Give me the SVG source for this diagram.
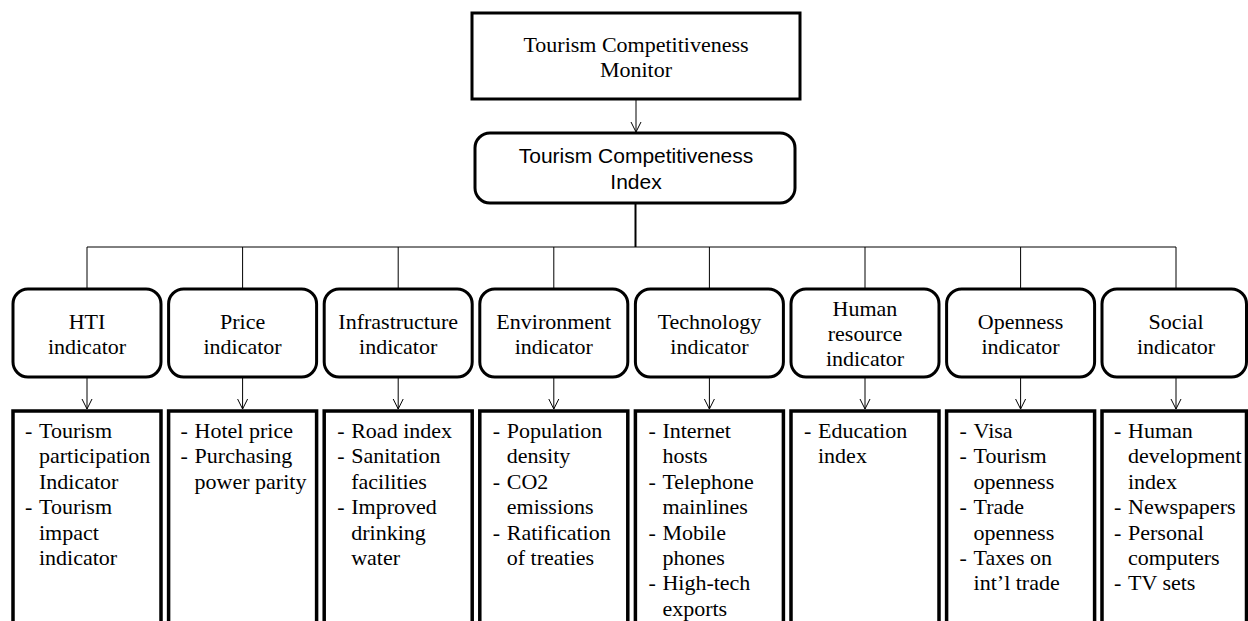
<svg xmlns="http://www.w3.org/2000/svg" width="1248" height="621" viewBox="0 0 1248 621">
  <defs>
    <style>
      .rm { font-family: "Liberation Serif", Tinos, "Times New Roman", Times, "DejaVu Serif", serif; font-size: 22px; fill: #000; }
      .sans { font-family: "Liberation Sans", Arial, sans-serif; font-size: 21px; fill: #000; }
      .mid { text-anchor: middle; }
      .box { fill: #fff; stroke: #000; stroke-width: 3; }
      .detail { fill: #fff; stroke: #000; stroke-width: 3.5; }
      .conn { fill: none; stroke: #000; stroke-width: 1; }
      .trunk { fill: none; stroke: #000; stroke-width: 2; }
    </style>
    <marker id="arrow" viewBox="0 0 12 12" refX="11" refY="6" markerWidth="12" markerHeight="12" markerUnits="userSpaceOnUse" orient="auto">
      <path d="M1,1 L11,6 L1,11" fill="none" stroke="#000" stroke-width="1"/>
    </marker>
  </defs>
  <rect width="1248" height="621" fill="#fff"/>

  <!-- connectors -->
  <g id="connectors">
    <line class="conn" x1="636" y1="99" x2="636" y2="132" marker-end="url(#arrow)"/>
    <line class="trunk" x1="635.5" y1="203" x2="635.5" y2="247"/>
    <line class="conn" x1="87" y1="247" x2="1176" y2="247"/>
    <line class="conn" x1="87" y1="247" x2="87" y2="289"/>
    <line class="conn" x1="242.6" y1="247" x2="242.6" y2="289"/>
    <line class="conn" x1="398.2" y1="247" x2="398.2" y2="289"/>
    <line class="conn" x1="553.8" y1="247" x2="553.8" y2="289"/>
    <line class="conn" x1="709.4" y1="247" x2="709.4" y2="289"/>
    <line class="conn" x1="865" y1="247" x2="865" y2="289"/>
    <line class="conn" x1="1020.6" y1="247" x2="1020.6" y2="289"/>
    <line class="conn" x1="1176" y1="247" x2="1176" y2="289"/>
    <line class="conn" x1="87" y1="377" x2="87" y2="409" marker-end="url(#arrow)"/>
    <line class="conn" x1="242.6" y1="377" x2="242.6" y2="409" marker-end="url(#arrow)"/>
    <line class="conn" x1="398.2" y1="377" x2="398.2" y2="409" marker-end="url(#arrow)"/>
    <line class="conn" x1="553.8" y1="377" x2="553.8" y2="409" marker-end="url(#arrow)"/>
    <line class="conn" x1="709.4" y1="377" x2="709.4" y2="409" marker-end="url(#arrow)"/>
    <line class="conn" x1="865" y1="377" x2="865" y2="409" marker-end="url(#arrow)"/>
    <line class="conn" x1="1020.6" y1="377" x2="1020.6" y2="409" marker-end="url(#arrow)"/>
    <line class="conn" x1="1176" y1="377" x2="1176" y2="409" marker-end="url(#arrow)"/>
  </g>

  <!-- top level -->
  <g id="monitor">
    <rect class="box" x="472" y="13" width="328" height="86"/>
    <text class="rm mid" x="636" y="52">Tourism Competitiveness</text>
    <text class="rm mid" x="636" y="77">Monitor</text>
  </g>
  <g id="index">
    <rect class="box" x="475" y="133" width="320" height="70" rx="15"/>
    <text class="sans mid" x="636" y="163">Tourism Competitiveness</text>
    <text class="sans mid" x="636" y="189">Index</text>
  </g>

  <!-- indicator nodes -->
  <g id="hti">
    <rect class="box" x="13" y="289" width="148" height="88" rx="15"/>
    <text class="rm mid" x="87" y="329">HTI</text>
    <text class="rm mid" x="87" y="354">indicator</text>
  </g>
  <g id="price">
    <rect class="box" x="168.6" y="289" width="148" height="88" rx="15"/>
    <text class="rm mid" x="242.6" y="329">Price</text>
    <text class="rm mid" x="242.6" y="354">indicator</text>
  </g>
  <g id="infrastructure">
    <rect class="box" x="324.2" y="289" width="148" height="88" rx="15"/>
    <text class="rm mid" x="398.2" y="329">Infrastructure</text>
    <text class="rm mid" x="398.2" y="354">indicator</text>
  </g>
  <g id="environment">
    <rect class="box" x="479.8" y="289" width="148" height="88" rx="15"/>
    <text class="rm mid" x="553.8" y="329">Environment</text>
    <text class="rm mid" x="553.8" y="354">indicator</text>
  </g>
  <g id="technology">
    <rect class="box" x="635.4" y="289" width="148" height="88" rx="15"/>
    <text class="rm mid" x="709.4" y="329">Technology</text>
    <text class="rm mid" x="709.4" y="354">indicator</text>
  </g>
  <g id="human-resource">
    <rect class="box" x="791" y="289" width="148" height="88" rx="15"/>
    <text class="rm mid" x="865" y="316">Human</text>
    <text class="rm mid" x="865" y="341">resource</text>
    <text class="rm mid" x="865" y="366">indicator</text>
  </g>
  <g id="openness">
    <rect class="box" x="946.6" y="289" width="148" height="88" rx="15"/>
    <text class="rm mid" x="1020.6" y="329">Openness</text>
    <text class="rm mid" x="1020.6" y="354">indicator</text>
  </g>
  <g id="social">
    <rect class="box" x="1102" y="289" width="144.5" height="88" rx="15"/>
    <text class="rm mid" x="1176" y="329">Social</text>
    <text class="rm mid" x="1176" y="354">indicator</text>
  </g>

  <!-- detail lists -->
  <g id="hti-items">
    <rect class="detail" x="13" y="411" width="148" height="230"/>
    <text class="rm"><tspan x="25" y="438">-</tspan><tspan x="39" y="438">Tourism</tspan><tspan x="39" y="463.4">participation</tspan><tspan x="39" y="488.8">Indicator</tspan><tspan x="25" y="514.2">-</tspan><tspan x="39" y="514.2">Tourism</tspan><tspan x="39" y="539.6">impact</tspan><tspan x="39" y="565">indicator</tspan></text>
  </g>
  <g id="price-items">
    <rect class="detail" x="168.6" y="411" width="148" height="230"/>
    <text class="rm"><tspan x="180.6" y="438">-</tspan><tspan x="194.6" y="438">Hotel price</tspan><tspan x="180.6" y="463.4">-</tspan><tspan x="194.6" y="463.4">Purchasing</tspan><tspan x="194.6" y="488.8">power parity</tspan></text>
  </g>
  <g id="infrastructure-items">
    <rect class="detail" x="324.2" y="411" width="148" height="230"/>
    <text class="rm"><tspan x="337.2" y="438">-</tspan><tspan x="351.2" y="438">Road index</tspan><tspan x="337.2" y="463.4">-</tspan><tspan x="351.2" y="463.4">Sanitation</tspan><tspan x="351.2" y="488.8">facilities</tspan><tspan x="337.2" y="514.2">-</tspan><tspan x="351.2" y="514.2">Improved</tspan><tspan x="351.2" y="539.6">drinking</tspan><tspan x="351.2" y="565">water</tspan></text>
  </g>
  <g id="environment-items">
    <rect class="detail" x="479.8" y="411" width="148" height="230"/>
    <text class="rm"><tspan x="492.8" y="438">-</tspan><tspan x="506.8" y="438">Population</tspan><tspan x="506.8" y="463.4">density</tspan><tspan x="492.8" y="488.8">-</tspan><tspan x="506.8" y="488.8">CO2</tspan><tspan x="506.8" y="514.2">emissions</tspan><tspan x="492.8" y="539.6">-</tspan><tspan x="506.8" y="539.6">Ratification</tspan><tspan x="506.8" y="565">of treaties</tspan></text>
  </g>
  <g id="technology-items">
    <rect class="detail" x="635.4" y="411" width="148" height="230"/>
    <text class="rm"><tspan x="648.4" y="438">-</tspan><tspan x="662.4" y="438">Internet</tspan><tspan x="662.4" y="463.4">hosts</tspan><tspan x="648.4" y="488.8">-</tspan><tspan x="662.4" y="488.8">Telephone</tspan><tspan x="662.4" y="514.2">mainlines</tspan><tspan x="648.4" y="539.6">-</tspan><tspan x="662.4" y="539.6">Mobile</tspan><tspan x="662.4" y="565">phones</tspan><tspan x="648.4" y="590.4">-</tspan><tspan x="662.4" y="590.4">High-tech</tspan><tspan x="662.4" y="615.8">exports</tspan></text>
  </g>
  <g id="human-resource-items">
    <rect class="detail" x="791" y="411" width="148" height="230"/>
    <text class="rm"><tspan x="804" y="438">-</tspan><tspan x="818" y="438">Education</tspan><tspan x="818" y="463.4">index</tspan></text>
  </g>
  <g id="openness-items">
    <rect class="detail" x="946.6" y="411" width="148" height="230"/>
    <text class="rm"><tspan x="959.6" y="438">-</tspan><tspan x="973.6" y="438">Visa</tspan><tspan x="959.6" y="463.4">-</tspan><tspan x="973.6" y="463.4">Tourism</tspan><tspan x="973.6" y="488.8">openness</tspan><tspan x="959.6" y="514.2">-</tspan><tspan x="973.6" y="514.2">Trade</tspan><tspan x="973.6" y="539.6">openness</tspan><tspan x="959.6" y="565">-</tspan><tspan x="973.6" y="565">Taxes on</tspan><tspan x="973.6" y="590.4">int’l trade</tspan></text>
  </g>
  <g id="social-items">
    <rect class="detail" x="1102" y="411" width="144.5" height="230"/>
    <text class="rm"><tspan x="1114" y="438">-</tspan><tspan x="1128" y="438">Human</tspan><tspan x="1128" y="463.4">development</tspan><tspan x="1128" y="488.8">index</tspan><tspan x="1114" y="514.2">-</tspan><tspan x="1128" y="514.2">Newspapers</tspan><tspan x="1114" y="539.6">-</tspan><tspan x="1128" y="539.6">Personal</tspan><tspan x="1128" y="565">computers</tspan><tspan x="1114" y="590.4">-</tspan><tspan x="1128" y="590.4">TV sets</tspan></text>
  </g>
</svg>
